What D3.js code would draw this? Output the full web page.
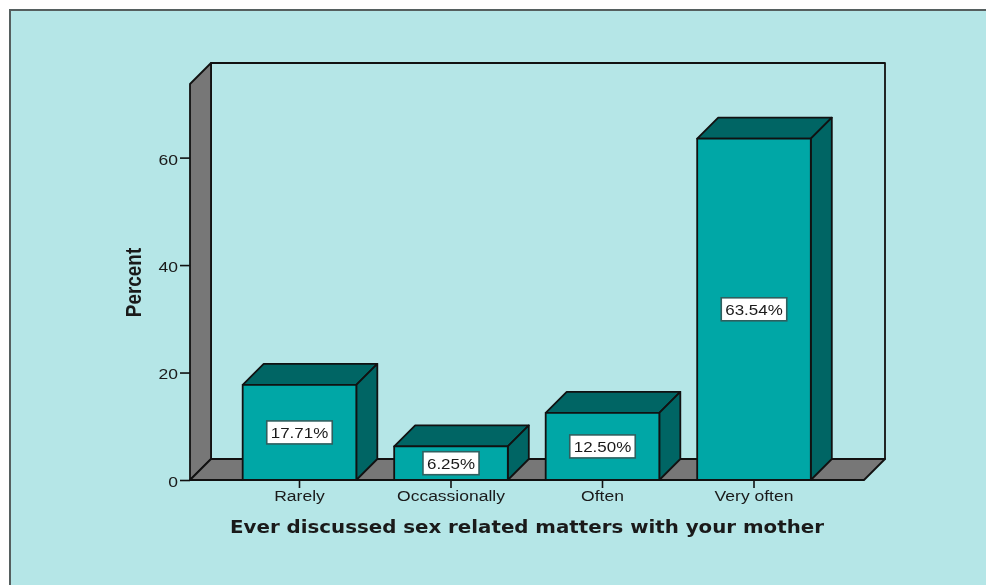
<!DOCTYPE html>
<html><head><meta charset="utf-8">
<script src="https://cdn.jsdelivr.net/npm/d3@7"></script>
<style>
html,body{margin:0;padding:0;background:#fff;overflow:hidden}
svg{display:block;filter:blur(0.5px)}
text{font-family:"Liberation Sans",Arial,sans-serif;fill:#1a1a1a}
</style></head><body><div id="c"></div>
<script>
const categories = ["Rarely","Occassionally","Often","Very often"];
const percents = [17.71,6.25,12.50,63.54];
const valueLabels = ["17.71%","6.25%","12.50%","63.54%"];
const yTicks = [0,20,40,60];
const xTitle = "Ever discussed sex related matters with your mother";
const yTitle = "Percent";

const W=986,H=585,dx=21,dy=21,ink="#111";
const svg=d3.select("#c").append("svg").attr("width",W).attr("height",H);
svg.append("rect").attr("x",10).attr("y",10).attr("width",W).attr("height",H)
  .attr("fill","#b5e6e7").attr("stroke","#555f5f").attr("stroke-width",2);

const stretch=(sel,k)=>sel.each(function(){
  const n=d3.select(this);
  n.attr("textLength",this.getComputedTextLength()*k).attr("lengthAdjust","spacingAndGlyphs");
});
const y=d3.scaleLinear().domain([0,73.7]).range([480,84]);
const x=d3.scaleBand().domain(categories).range([223.75,829.75]).paddingInner(.25).paddingOuter(.125);
const left=190,right=864;
const poly=(pts,fill)=>svg.append("polygon").attr("points",pts.map(p=>p.join(",")).join(" "))
  .attr("fill",fill).attr("stroke",ink).attr("stroke-width",1.8).attr("stroke-linejoin","round");

// walls
poly([[left+dx,y(73.7)-dy],[right+dx,y(73.7)-dy],[right+dx,y(0)-dy],[left+dx,y(0)-dy]],"none");
poly([[left,y(73.7)],[left+dx,y(73.7)-dy],[left+dx,y(0)-dy],[left,y(0)]],"#777777");
poly([[left,y(0)],[left+dx,y(0)-dy],[right+dx,y(0)-dy],[right,y(0)]],"#777777");

// axes
const ay=svg.append("g").attr("transform",`translate(${left},0)`)
  .call(d3.axisLeft(y).tickValues(yTicks).tickSize(10).tickPadding(2));
ay.select(".domain").remove();
ay.selectAll("line").attr("stroke",ink).attr("stroke-width",1.6);
ay.selectAll("text").attr("font-size",14).attr("dy","0.46em").style("font-family",'"Liberation Sans",sans-serif').attr("fill","#2a2a2a").call(stretch,1.25);

const ax=svg.append("g").attr("transform",`translate(0,${y(0)})`)
  .call(d3.axisBottom(x).tickSize(8).tickPadding(3));
ax.select(".domain").remove();
ax.selectAll("line").attr("stroke",ink).attr("stroke-width",1.6);
ax.selectAll("text").attr("font-size",14).style("font-family",'"Liberation Sans",sans-serif').attr("fill","#2a2a2a").call(stretch,1.25);

// bars
categories.forEach((c,i)=>{
  const x0=x(c),x1=x0+x.bandwidth(),yt=y(percents[i]),yb=y(0);
  poly([[x0,yt],[x0+dx,yt-dy],[x1+dx,yt-dy],[x1,yt]],"#006564");
  poly([[x1,yt],[x1+dx,yt-dy],[x1+dx,yb-dy],[x1,yb]],"#006564");
  poly([[x0,yt],[x1,yt],[x1,yb],[x0,yb]],"#00a7a6");
  const g=svg.append("g").attr("transform",`translate(${x0+x.bandwidth()/2},${(yt+yb)/2})`);
  const r=g.append("rect").attr("fill","#fff").attr("stroke","#2f5f5f").attr("stroke-width",1.6);
  const t=g.append("text").attr("text-anchor","middle").attr("dy","0.36em").attr("font-size",15).text(valueLabels[i]).call(stretch,1.13);
  const w=+t.attr("textLength")+8;
  r.attr("x",-w/2).attr("y",-11.5).attr("width",w).attr("height",23);
});

// titles
svg.append("text").attr("x",527).attr("y",533).attr("text-anchor","middle")
  .attr("font-size",18).attr("font-weight","bold").attr("fill","#0a0a0a")
  .style("font-family",'"DejaVu Sans",sans-serif').text(xTitle).call(stretch,1.1);
svg.append("text").attr("transform","translate(140.5,282.5) rotate(-90)").attr("text-anchor","middle")
  .attr("font-size",22.5).attr("font-weight","bold").attr("fill","#0a0a0a")
  .style("font-family",'"Liberation Sans",sans-serif').text(yTitle).call(stretch,0.84);
</script></body></html>
